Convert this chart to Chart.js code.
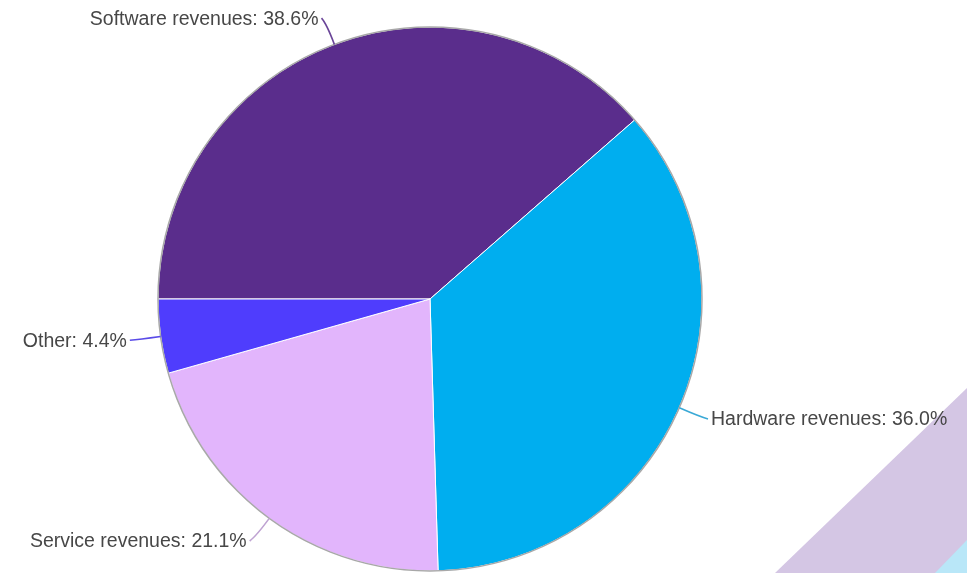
<!DOCTYPE html>
<html>
<head>
<meta charset="utf-8">
<script src="https://cdn.jsdelivr.net/npm/chart.js@4.4.1/dist/chart.umd.min.js"></script>
<style>
  html, body { margin: 0; padding: 0; background: #fff; }
  #wrap { width: 967px; height: 573px; position: relative; }
</style>
</head>
<body>
<div id="wrap"><canvas id="pie"></canvas></div>
<script>
// data
var categories = ["Software revenues", "Hardware revenues", "Service revenues", "Other"];
var shares = [38.6, 36.0, 21.1, 4.4];

var sliceColors = ["#5a2d8c", "#00aeef", "#e2b5fc", "#4f3dfd"];
var lineColors = ["#6a4598", "#3aa9d6", "#bfa3d2", "#5a4be8"];

// corner decoration behind the chart
var backdrop = {
	id: "backdrop",
	beforeDraw: function(chart) {
		var ctx = chart.ctx, w = chart.width, h = chart.height;
		ctx.save();
		ctx.fillStyle = "#d4c6e4";
		ctx.beginPath();
		ctx.moveTo(w, 388);
		ctx.lineTo(w - 192, h);
		ctx.lineTo(w, h);
		ctx.closePath();
		ctx.fill();
		ctx.fillStyle = "#b9e7f8";
		ctx.beginPath();
		ctx.moveTo(w, 540);
		ctx.lineTo(w - 32, h);
		ctx.lineTo(w, h);
		ctx.closePath();
		ctx.fill();
		ctx.restore();
	}
};

// gray rim + outside labels with leader lines
var outsideLabels = {
	id: "outsideLabels",
	afterDatasetsDraw: function(chart) {
		var ctx = chart.ctx;
		var arcs = chart.getDatasetMeta(0).data;
		if (!arcs.length) return;
		var cx = arcs[0].x, cy = arcs[0].y, r = arcs[0].outerRadius;

		ctx.save();
		ctx.strokeStyle = "#a8a8a8";
		ctx.lineWidth = 1.5;
		ctx.beginPath();
		ctx.arc(cx, cy, r, 0, Math.PI * 2);
		ctx.stroke();

		ctx.font = "19.5px 'Liberation Sans', Arial, sans-serif";
		ctx.textBaseline = "middle";
		arcs.forEach(function(arc, i) {
			var mid = (arc.startAngle + arc.endAngle) / 2;
			var dx = Math.cos(mid), dy = Math.sin(mid);
			var side = dx >= 0 ? 1 : -1;
			var x0 = cx + r * dx, y0 = cy + r * dy;
			var xc = cx + (r + 22) * dx, yc = cy + (r + 22) * dy;
			var x1 = cx + (r + 28) * dx + side * 3, y1 = cy + (r + 28) * dy;

			ctx.strokeStyle = lineColors[i];
			ctx.lineWidth = 1.6;
			ctx.beginPath();
			ctx.moveTo(x0, y0);
			ctx.quadraticCurveTo(xc, yc, x1, y1);
			ctx.stroke();

			ctx.fillStyle = "#474747";
			ctx.textAlign = side > 0 ? "left" : "right";
			ctx.fillText(categories[i] + ": " + shares[i].toFixed(1) + "%", x1 + side * 3, y1 + 1);
		});
		ctx.restore();
	}
};

var chart = new Chart(document.getElementById("pie"), {
	type: "pie",
	data: {
		labels: categories,
		datasets: [{
			data: shares,
			backgroundColor: sliceColors,
			borderColor: "#ffffff",
			borderWidth: 1
		}]
	},
	options: {
		responsive: true,
		maintainAspectRatio: false,
		animation: false,
		rotation: 270,
		layout: {
			padding: { top: 26.5, bottom: 1.5, left: 157.5, right: 264.5 }
		},
		plugins: {
			legend: { display: false },
			tooltip: { enabled: false }
		}
	},
	plugins: [backdrop, outsideLabels]
});
</script>
</body>
</html>
